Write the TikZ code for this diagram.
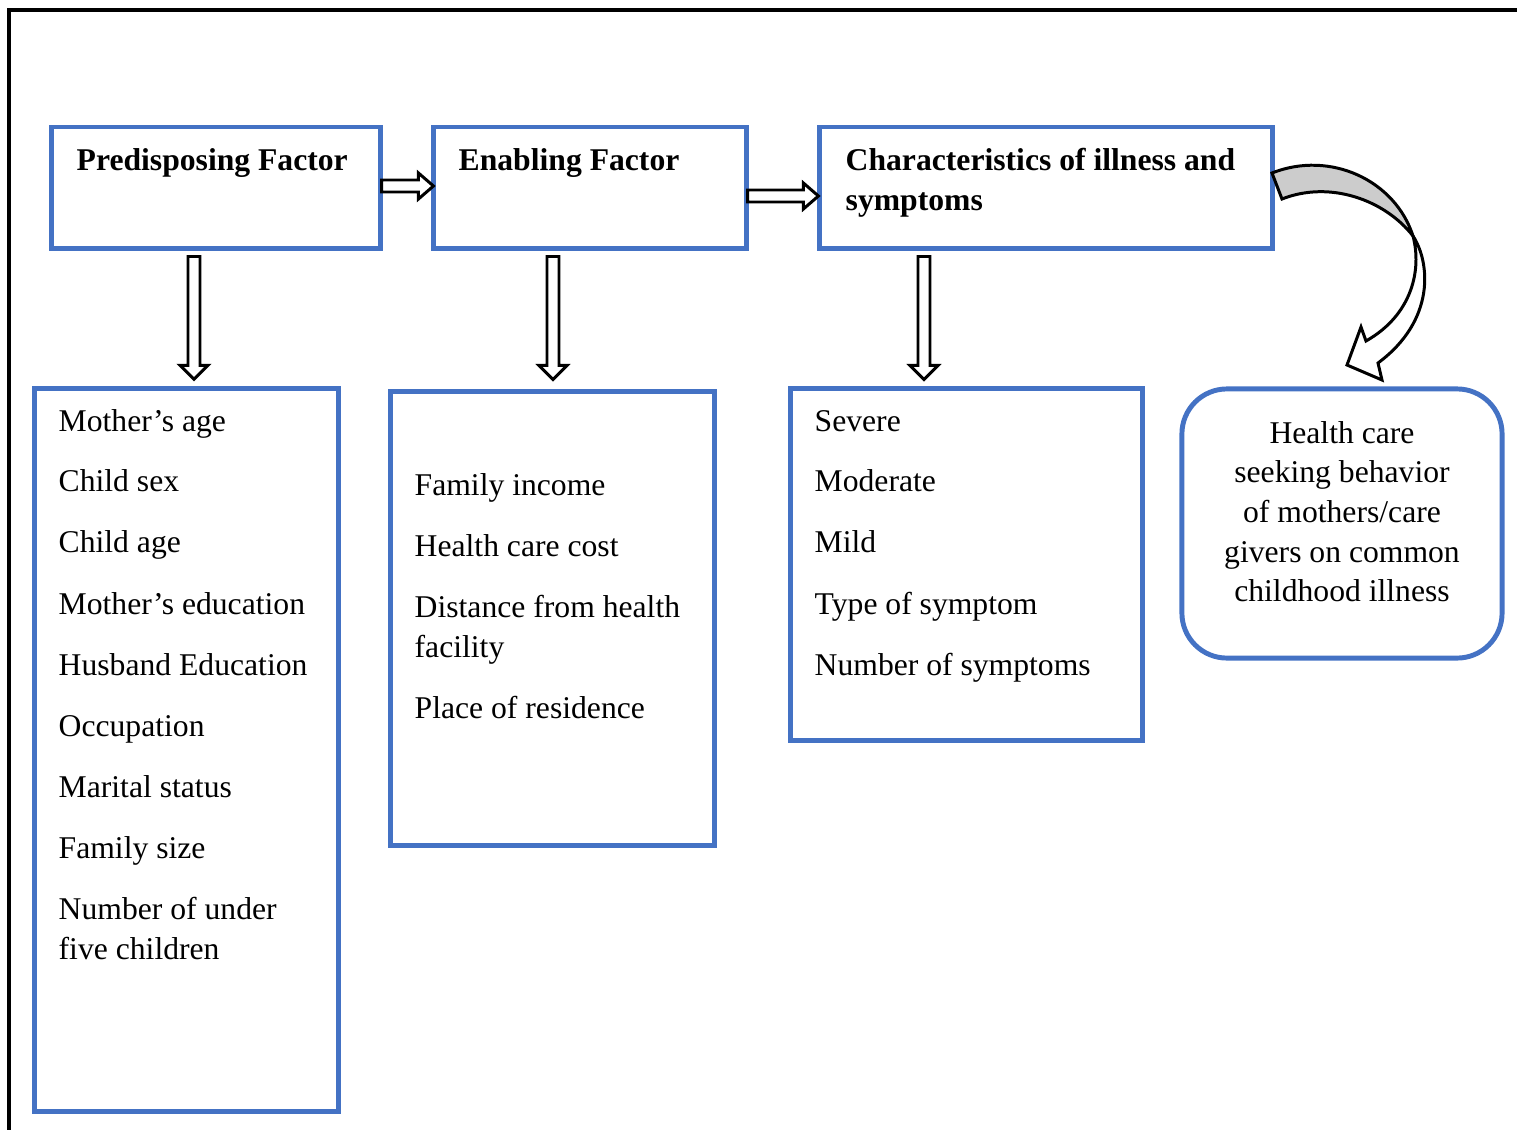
\documentclass[tikz,border=0pt]{standalone}
\usepackage{fontspec}
\setmainfont{Liberation Serif}
\usetikzlibrary{calc}
\definecolor{boxblue}{HTML}{4472C4}
\begin{document}
\begin{tikzpicture}[x=0.01cm,y=-0.01cm,
  bluebox/.style={draw=boxblue,line width=1.4pt,fill=none,inner sep=0pt},
  txt/.style={anchor=base west,inner sep=0pt,font=\fontsize{9}{11}\selectfont},
  head/.style={txt,font=\fontsize{9}{11}\selectfont\bfseries},
  ctxt/.style={anchor=base,inner sep=0pt,font=\fontsize{9}{11}\selectfont},
  blockar/.style={draw=black,line width=0.85pt,fill=white,line join=miter},
  curv/.style={draw=black,line width=0.85pt,line join=miter}]
\useasboundingbox (0,0) rectangle (1517,1130);
% outer frame
\draw[line width=0.9pt] (9,1130) -- (9,10) -- (1517,10);
% top boxes
\node[bluebox,minimum width=3.28cm,minimum height=1.21cm] (p) at (216,187.5) {};
\node[bluebox,minimum width=3.12cm,minimum height=1.21cm] (e) at (590,187.5) {};
\node[bluebox,minimum width=4.52cm,minimum height=1.21cm] (c) at (1046,187.5) {};
\node[head] (pt) at (76,170) {Predisposing Factor};
\node[head] (et) at (458,170) {Enabling Factor};
\node[head] (ct1) at (845,170) {Characteristics of illness and};
\node[head] (ct2) at (845,210) {symptoms};
% lower boxes
\node[bluebox,minimum width=3.03cm,minimum height=7.22cm] (l1) at (186.5,750) {};
\node[bluebox,minimum width=3.23cm,minimum height=4.53cm] (l2) at (552.5,618.5) {};
\node[bluebox,minimum width=3.51cm,minimum height=3.51cm] (l3) at (966.5,564.5) {};
\node[bluebox,rounded corners=0.45cm,minimum width=3.20cm,minimum height=2.69cm] (hc) at (1342,523.5) {};
% list 1
\node[txt] (a1) at (58,431) {Mother’s age};
\node[txt] (a2) at (58,491) {Child sex};
\node[txt] (a3) at (58,552) {Child age};
\node[txt] (a4) at (58,614) {Mother’s education};
\node[txt] (a5) at (58,675) {Husband Education};
\node[txt] (a6) at (58,736) {Occupation};
\node[txt] (a7) at (58,797) {Marital status};
\node[txt] (a8) at (58,858) {Family size};
\node[txt] (a9) at (58,919) {Number of under};
\node[txt] (a10) at (58,959) {five children};
% list 2
\node[txt] (b1) at (414,495) {Family income};
\node[txt] (b2) at (414,556) {Health care cost};
\node[txt] (b3) at (414,617) {Distance from health};
\node[txt] (b4) at (414,657) {facility};
\node[txt] (b5) at (414,718) {Place of residence};
% list 3
\node[txt] (d1) at (814,431) {Severe};
\node[txt] (d2) at (814,491) {Moderate};
\node[txt] (d3) at (814,552) {Mild};
\node[txt] (d4) at (814,614) {Type of symptom};
\node[txt] (d5) at (814,675) {Number of symptoms};
% health care box text
\node[ctxt] (h1) at (1342,443) {Health care};
\node[ctxt] (h2) at (1342,482) {seeking behavior};
\node[ctxt] (h3) at (1342,522) {of mothers/care};
\node[ctxt] (h4) at (1342,562) {givers on common};
\node[ctxt] (h5) at (1342,601) {childhood illness};
% horizontal block arrows
\coordinate (s1) at ($(p.east)+(-1,-1.5)$);
\coordinate (t1) at ($(e.west)+(2,-1.5)$);
\draw[blockar] ($(s1)+(0,-6)$) -- ($(t1)+(-15,-6)$) -- ($(t1)+(-15,-13)$) -- (t1)
  -- ($(t1)+(-15,13)$) -- ($(t1)+(-15,6)$) -- ($(s1)+(0,6)$) -- cycle;
\coordinate (s2) at ($(e.east)+(-1,8.5)$);
\coordinate (t2) at ($(c.west)+(1,8.5)$);
\draw[blockar] ($(s2)+(0,-6)$) -- ($(t2)+(-15,-6)$) -- ($(t2)+(-15,-13)$) -- (t2)
  -- ($(t2)+(-15,13)$) -- ($(t2)+(-15,6)$) -- ($(s2)+(0,6)$) -- cycle;
% vertical block arrows
\coordinate (vs1) at ($(p.south)+(-22,6)$);
\coordinate (vt1) at ($(vs1 |- l1.north)+(0,-7)$);
\coordinate (vs2) at ($(e.south)+(-37,6)$);
\coordinate (vt2) at ($(vs2 |- l2.north)+(0,-10)$);
\coordinate (vs3) at ($(c.south)+(-122,6)$);
\coordinate (vt3) at ($(vs3 |- l3.north)+(0,-7)$);
\foreach \s/\t in {vs1/vt1,vs2/vt2,vs3/vt3}{
  \draw[blockar] ($(\s)+(-6,0)$) -- ($(\t)+(-6,-14)$) -- ($(\t)+(-14,-14)$) -- (\t)
    -- ($(\t)+(14,-14)$) -- ($(\t)+(6,-14)$) -- ($(\s)+(6,0)$) -- cycle;
}
% curved arrow to health care box
\draw[curv,fill=black!20] (1272,173) .. controls (1330,150) and (1395,180) .. (1413,236)
  .. controls (1385,200) and (1330,180) .. (1282,199) -- cycle;
\draw[curv,fill=white] (1413,236) .. controls (1430,262) and (1436,320) .. (1378,363)
  -- (1382,380) -- (1347,365) -- (1361,327) -- (1366,341)
  .. controls (1412,315) and (1422,270) .. (1413,236) -- cycle;
\end{tikzpicture}
\end{document}
